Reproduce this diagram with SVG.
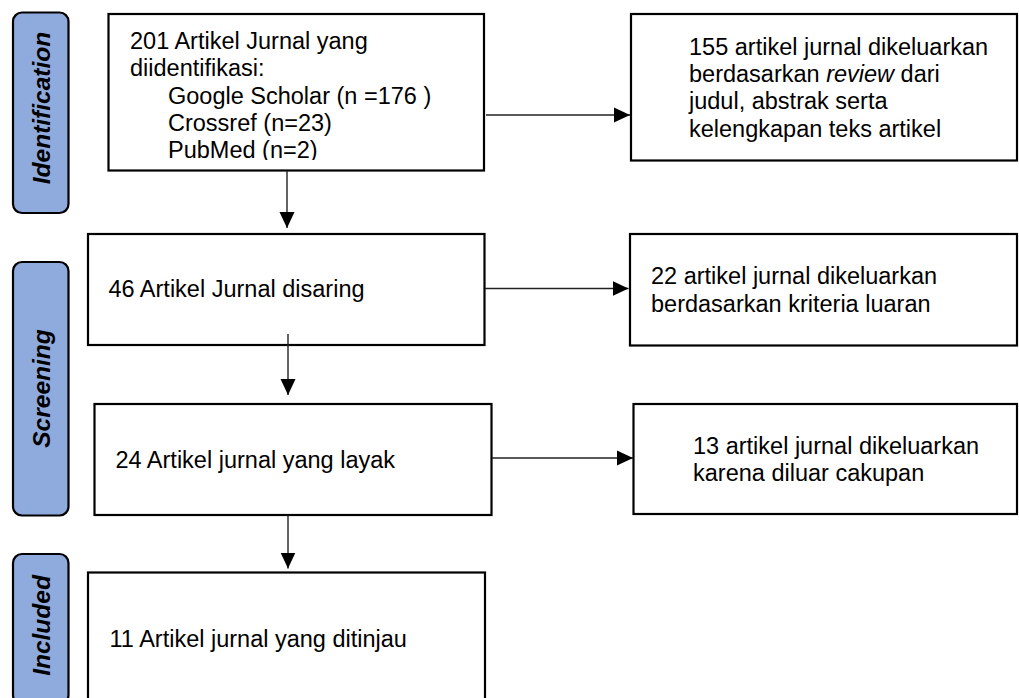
<svg xmlns="http://www.w3.org/2000/svg" width="1019" height="698" viewBox="0 0 1019 698">
<style>
.box{fill:#fff;stroke:#000;stroke-width:2.2}
.lab{fill:#8faadc;stroke:#000;stroke-width:2.2}
.t{font-family:"Liberation Sans",Arial,sans-serif;font-size:23.5px;fill:#000}
.lt{font-family:"Liberation Sans",Arial,sans-serif;font-size:24.5px;font-weight:bold;font-style:italic;fill:#000;text-anchor:middle}
.c{stroke:#222;stroke-width:1.4;fill:none}
</style>
<defs>
<marker id="ah" markerUnits="userSpaceOnUse" markerWidth="16" markerHeight="16" viewBox="0 0 16 16" refX="16" refY="8" orient="auto">
<path d="M0,0.5 L16,8 L0,15.5 Z" fill="#000"/>
</marker>
<clipPath id="cb1"><rect x="108" y="14" width="376" height="146"/></clipPath>
</defs>
<rect width="1019" height="698" fill="#fff"/>
<g id="label-identification">
<rect class="lab" x="13" y="12.5" width="55.5" height="200.5" rx="9"/>
<text class="lt" transform="translate(49.5,108) rotate(-90)">Identification</text>
</g>
<g id="label-screening">
<rect class="lab" x="13" y="262" width="55.5" height="253.5" rx="9"/>
<text class="lt" transform="translate(49.5,388.5) rotate(-90)">Screening</text>
</g>
<g id="label-included">
<rect class="lab" x="13" y="554" width="55.5" height="150" rx="9"/>
<text class="lt" transform="translate(49.5,625.5) rotate(-90)">Included</text>
</g>
<g id="box-identified">
<rect class="box" x="108.5" y="14" width="375.5" height="156.5"/>
<g clip-path="url(#cb1)">
<text class="t" x="130" y="49">201 Artikel Jurnal yang</text>
<text class="t" x="130" y="76">diidentifikasi:</text>
<text class="t" x="168" y="103.5">Google Scholar (n =176 )</text>
<text class="t" x="168" y="131">Crossref (n=23)</text>
<text class="t" x="168" y="158">PubMed (n=2)</text>
</g>
</g>
<g id="box-excluded-review">
<rect class="box" x="631" y="14" width="386" height="146.5"/>
<text class="t" x="689" y="54.5">155 artikel jurnal dikeluarkan</text>
<text class="t" x="689" y="82">berdasarkan <tspan font-style="italic">review</tspan> dari</text>
<text class="t" x="689" y="109">judul, abstrak serta</text>
<text class="t" x="689" y="136.5">kelengkapan teks artikel</text>
</g>
<g id="box-screened">
<rect class="box" x="88" y="234" width="396.5" height="111"/>
<text class="t" x="108.5" y="297">46 Artikel Jurnal disaring</text>
</g>
<g id="box-excluded-criteria">
<rect class="box" x="630" y="234" width="387" height="111.5"/>
<text class="t" x="651" y="284">22 artikel jurnal dikeluarkan</text>
<text class="t" x="651" y="311.5">berdasarkan kriteria luaran</text>
</g>
<g id="box-eligible">
<rect class="box" x="94.5" y="404" width="397" height="111"/>
<text class="t" x="115.5" y="467.5">24 Artikel jurnal yang layak</text>
</g>
<g id="box-excluded-scope">
<rect class="box" x="633.5" y="404" width="383.5" height="110"/>
<text class="t" x="693" y="453.5">13 artikel jurnal dikeluarkan</text>
<text class="t" x="693" y="481">karena diluar cakupan</text>
</g>
<g id="box-included">
<rect class="box" x="88" y="572.5" width="397" height="130"/>
<text class="t" x="109.5" y="646.5">11 Artikel jurnal yang ditinjau</text>
</g>
<g id="connectors">
<line class="c" x1="486" y1="115" x2="630" y2="115" marker-end="url(#ah)"/>
<line class="c" x1="287" y1="171" x2="287" y2="228" marker-end="url(#ah)"/>
<line class="c" x1="485" y1="288.5" x2="628.5" y2="288.5" marker-end="url(#ah)"/>
<line class="c" x1="288" y1="334" x2="288" y2="395" marker-end="url(#ah)"/>
<line class="c" x1="492" y1="458" x2="633" y2="458" marker-end="url(#ah)"/>
<line class="c" x1="288" y1="515.5" x2="288" y2="568.5" marker-end="url(#ah)"/>
</g>
</svg>
